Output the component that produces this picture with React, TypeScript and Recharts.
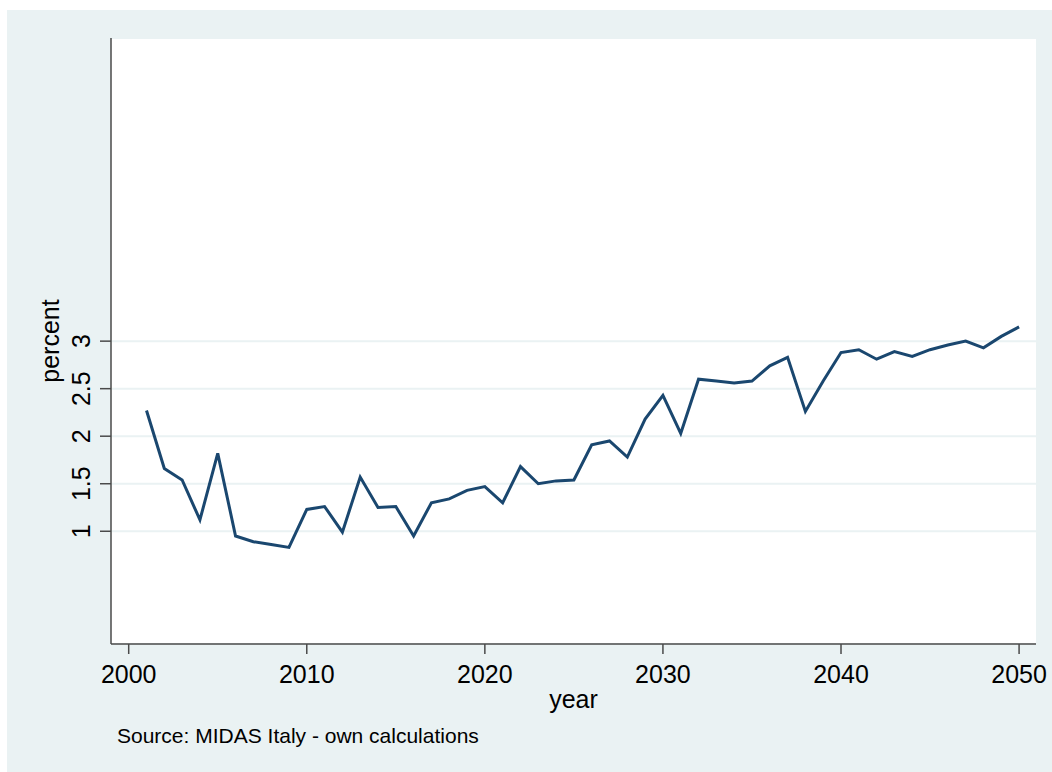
import React from 'react';
import { LineChart, Line, XAxis, YAxis, CartesianGrid } from 'recharts';

const years = [
  2001, 2002, 2003, 2004, 2005, 2006, 2007, 2008, 2009, 2010,
  2011, 2012, 2013, 2014, 2015, 2016, 2017, 2018, 2019, 2020,
  2021, 2022, 2023, 2024, 2025, 2026, 2027, 2028, 2029, 2030,
  2031, 2032, 2033, 2034, 2035, 2036, 2037, 2038, 2039, 2040,
  2041, 2042, 2043, 2044, 2045, 2046, 2047, 2048, 2049, 2050,
];
const percent = [
  2.27, 1.66, 1.54, 1.12, 1.82, 0.95, 0.89, 0.86, 0.83, 1.23,
  1.26, 0.99, 1.57, 1.25, 1.26, 0.95, 1.30, 1.34, 1.43, 1.47,
  1.30, 1.68, 1.50, 1.53, 1.54, 1.91, 1.95, 1.78, 2.18, 2.43,
  2.03, 2.60, 2.58, 2.56, 2.58, 2.74, 2.83, 2.26, 2.58, 2.88,
  2.91, 2.81, 2.89, 2.84, 2.91, 2.96, 3.00, 2.93, 3.05, 3.15,
];
const xTicks = [2000, 2010, 2020, 2030, 2040, 2050];
const yTicks = [1, 1.5, 2, 2.5, 3];

const data = years.map((year, i) => ({ year, value: percent[i] }));

const W = 1045;
const H = 762;
const FONT = '"Liberation Sans", Arial, Helvetica, sans-serif';
const AXIS = '#4a4a4a';
const BG = '#eaf2f3';

const XTick = (props: any) => {
  const { x, y, payload } = props;
  return (
    <text x={x} y={y} dy={27} textAnchor="middle" fontFamily={FONT} fontSize={25} fill="#000">
      {payload.value}
    </text>
  );
};

const YTick = (props: any) => {
  const { x, y, payload } = props;
  const bx = x - 8;
  return (
    <text
      x={bx}
      y={y}
      textAnchor="middle"
      transform={`rotate(-90 ${bx} ${y})`}
      fontFamily={FONT}
      fontSize={25}
      fill="#000"
    >
      {payload.value}
    </text>
  );
};

export default function App() {
  return (
    <div style={{ position: 'absolute', left: 7, top: 10, width: W, height: H, background: BG }}>
      <LineChart width={W} height={H} data={data} margin={{ top: 28, right: 16, left: 0, bottom: 0 }}>
        <CartesianGrid vertical={false} horizontal fill="#ffffff" stroke={BG} strokeWidth={2} />
        <XAxis
          dataKey="year"
          type="number"
          domain={[1999.006, 2050.95]}
          ticks={xTicks}
          height={128}
          tickSize={10}
          tickMargin={2}
          stroke={AXIS}
          axisLine={{ stroke: AXIS, strokeWidth: 1.5 }}
          tickLine={{ stroke: AXIS, strokeWidth: 1.5 }}
          tick={<XTick />}
          allowDataOverflow
        />
        <YAxis
          type="number"
          domain={[-0.186, 6.189]}
          ticks={yTicks}
          width={104}
          tickSize={11}
          tickMargin={2}
          stroke={AXIS}
          axisLine={{ stroke: AXIS, strokeWidth: 1.5 }}
          tickLine={{ stroke: AXIS, strokeWidth: 1.5 }}
          tick={<YTick />}
          allowDataOverflow
        />
        <Line
          type="linear"
          dataKey="value"
          stroke="#1a476f"
          strokeWidth={3}
          dot={false}
          isAnimationActive={false}
        />
      </LineChart>
      <svg
        width={W}
        height={H}
        style={{ position: 'absolute', left: 0, top: 0, pointerEvents: 'none' }}
      >
        <text x={566.5} y={698} textAnchor="middle" fontFamily={FONT} fontSize={25} fill="#000">
          year
        </text>
        <text
          x={52}
          y={331}
          textAnchor="middle"
          transform="rotate(-90 52 331)"
          fontFamily={FONT}
          fontSize={25}
          fill="#000"
        >
          percent
        </text>
        <text x={110} y={733} fontFamily={FONT} fontSize={21} fill="#000">
          Source: MIDAS Italy - own calculations
        </text>
      </svg>
    </div>
  );
}
